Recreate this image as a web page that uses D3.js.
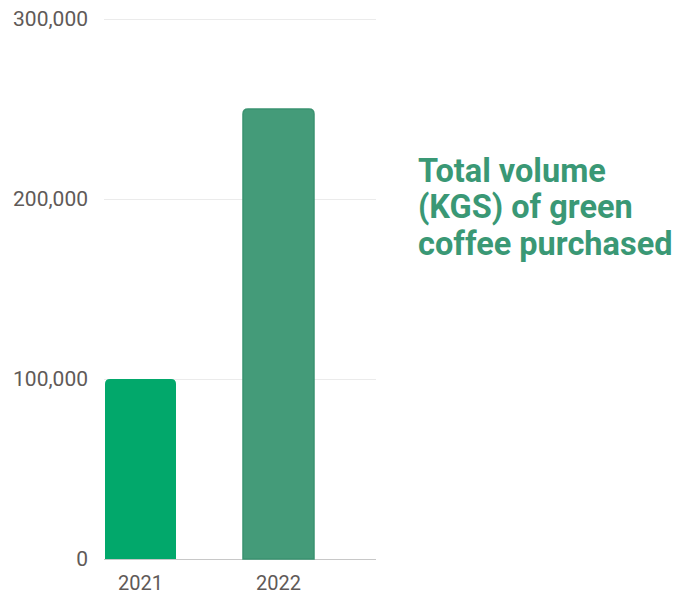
<!DOCTYPE html>
<html>
<head>
<meta charset="utf-8">
<script src="https://cdn.jsdelivr.net/npm/d3@7"></script>
<style>
  body { margin: 0; background: #fff; }
  svg text { font-family: Roboto, "Noto Sans", sans-serif; }
</style>
</head>
<body>
<div class="chart"></div>
<script>
var years = ['2021', '2022'];
var volumes = [100000, 250000];
var yTicks = [0, 100000, 200000, 300000];
var titleLines = ['Total volume', '(KGS) of green', 'coffee purchased'];
var barColors = ['#02a86b', '#449b79'];
var barStrokes = ['none', '#3a9270'];

var width = 684,
    height = 596;

var svg = d3.select('.chart').append('svg')
    .attr('width', width)
    .attr('height', height);

var y = d3.scaleLinear()
    .domain([0, 300000])
    .range([559, 19]);

var x = d3.scaleBand()
    .domain(years)
    .range([105, 314])
    .paddingInner(0.4855)
    .paddingOuter(0);

// gridlines
svg.selectAll('.grid')
    .data(yTicks)
    .enter()
    .append('line')
    .attr('x1', 104)
    .attr('x2', 376)
    .attr('y1', function (d) { return y(d) + 0.5; })
    .attr('y2', function (d) { return y(d) + 0.5; })
    .attr('stroke', function (d) { return d === 0 ? '#c8c8c8' : '#ebebeb'; })
    .attr('stroke-width', 1);

// y labels
svg.selectAll('.ylab')
    .data(yTicks)
    .enter()
    .append('text')
    .attr('x', 88)
    .attr('y', function (d) { return y(d); })
    .attr('dy', '0.35em')
    .style('text-anchor', 'end')
    .style('font-size', '21px')
    .attr('fill', '#5f5a58')
    .text(function (d) { return d3.format(',')(d); });

// bars with rounded top corners
function barPath(x0, w, top, bottom, r) {
    return 'M' + x0 + ',' + bottom +
        'V' + (top + r) +
        'Q' + x0 + ',' + top + ' ' + (x0 + r) + ',' + top +
        'H' + (x0 + w - r) +
        'Q' + (x0 + w) + ',' + top + ' ' + (x0 + w) + ',' + (top + r) +
        'V' + bottom + 'Z';
}

svg.selectAll('.bar')
    .data(volumes)
    .enter()
    .append('path')
    .attr('d', function (d, i) {
        return barPath(x(years[i]), x.bandwidth(), y(d), y(0), 5);
    })
    .attr('fill', function (d, i) { return barColors[i]; })
    .attr('stroke', function (d, i) { return barStrokes[i]; })
    .attr('stroke-width', 1.5);

// x labels
svg.selectAll('.xlab')
    .data(years)
    .enter()
    .append('text')
    .attr('x', function (d) { return x(d) + x.bandwidth() / 2; })
    .attr('y', 590)
    .style('text-anchor', 'middle')
    .style('font-size', '20px')
    .attr('fill', '#5f5a58')
    .text(function (d) { return d; });

// title on the right
svg.selectAll('.title')
    .data(titleLines)
    .enter()
    .append('text')
    .attr('x', 418)
    .attr('y', function (d, i) { return 181.5 + i * 36.8; })
    .style('font-size', '32.5px')
    .style('font-weight', 'bold')
    .attr('fill', '#3a9875')
    .text(function (d) { return d; });
</script>
</body>
</html>
